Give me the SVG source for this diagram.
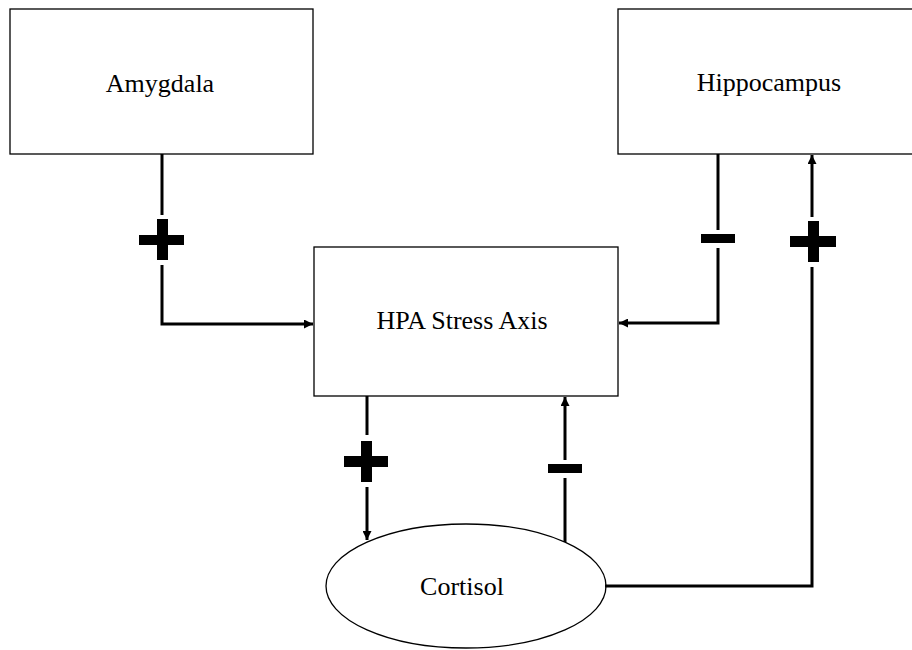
<svg xmlns="http://www.w3.org/2000/svg" width="912" height="650" viewBox="0 0 912 650">
<defs>
<style>
.box{fill:#fff;stroke:#000;stroke-width:1.3}
.lbl{font-family:"Liberation Serif","Times New Roman",serif;font-size:26px;fill:#000;text-anchor:middle}
.con{fill:none;stroke:#000;stroke-width:3}
.sign{fill:#000}
</style>
<marker id="ah" viewBox="0 0 10 10" refX="10" refY="5" markerWidth="11" markerHeight="9" markerUnits="userSpaceOnUse" orient="auto">
<path d="M0,0 L10,5 L0,10 Z" fill="#000"/>
</marker>
</defs>
<rect width="912" height="650" fill="#fff"/>
<g id="amygdala">
<rect class="box" x="10" y="9" width="303" height="145"/>
<text class="lbl" x="160" y="92">Amygdala</text>
</g>
<g id="hippocampus">
<rect class="box" x="618" y="9" width="302" height="145"/>
<text class="lbl" x="769" y="91">Hippocampus</text>
</g>
<g id="hpa">
<rect class="box" x="314" y="247" width="304" height="149"/>
<text class="lbl" x="462" y="329">HPA Stress Axis</text>
</g>
<g id="cortisol">
<ellipse class="box" cx="466" cy="586" rx="140" ry="62"/>
<text class="lbl" x="462" y="595">Cortisol</text>
</g>
<g id="connectors">
<path class="con" d="M162,154 V215"/>
<path class="con" d="M162,265 V324 H313" marker-end="url(#ah)"/>
<path class="con" d="M718,154 V230"/>
<path class="con" d="M718,248 V323 H619" marker-end="url(#ah)"/>
<path class="con" d="M605,586 H812 V267"/>
<path class="con" d="M812,217 V155" marker-end="url(#ah)"/>
<path class="con" d="M367,396 V435"/>
<path class="con" d="M367,487 V540" marker-end="url(#ah)"/>
<path class="con" d="M565,542 V478"/>
<path class="con" d="M565,460 V397" marker-end="url(#ah)"/>
<g id="signs">
<rect class="sign" x="139" y="235" width="45" height="10"/>
<rect class="sign" x="157" y="219" width="11" height="41"/>
<rect class="sign" x="701" y="234" width="34" height="9"/>
<rect class="sign" x="790" y="236" width="46" height="11"/>
<rect class="sign" x="808" y="221" width="11" height="41"/>
<rect class="sign" x="344" y="456" width="44" height="11"/>
<rect class="sign" x="361" y="441" width="11" height="41"/>
<rect class="sign" x="548" y="464" width="34" height="9"/>
</g>
</g>
</svg>
